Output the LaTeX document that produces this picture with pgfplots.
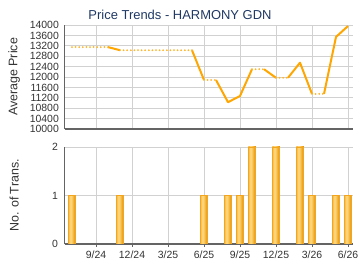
\documentclass[border=0pt]{standalone}
\usepackage{pgfplots}
\pgfplotsset{compat=1.18}
\usepackage{fontspec}
\setmainfont{Liberation Sans}
\definecolor{lineor}{RGB}{255,166,0}
\definecolor{titlec}{RGB}{31,56,100}
\definecolor{txt}{RGB}{51,51,51}
\definecolor{axc}{RGB}{100,100,100}
\definecolor{barL}{RGB}{247,180,50}
\definecolor{barM}{RGB}{255,212,120}
\definecolor{barR}{RGB}{232,150,5}
\definecolor{barE}{RGB}{242,165,30}
\pgfdeclarehorizontalshading{barsh}{100bp}{color(0bp)=(barL); color(25bp)=(barL); color(36bp)=(barM); color(45bp)=(barM); color(70bp)=(barR); color(100bp)=(barR)}
\begin{document}
\begin{tikzpicture}
\useasboundingbox (0bp,0bp) rectangle (360bp,270bp);
\pgfplotsset{
  common/.style={
    scale only axis,
    width=288bp,
    xmin=-2.625, xmax=21.375,
    xtick={0,3,6,9,12,15,18,21},
    axis lines=left,
    axis line style={-, draw=axc, line width=1.2bp},
    grid=major,
    grid style={draw=black!18, line width=0.8bp},
    ytick style={draw=none},
    tick label style={font=\fontsize{10.5}{12}\selectfont, text=txt},
    /pgf/number format/assume math mode=true,
    every axis y label/.style={at={(axis description cs:-0.175,0.5)}, rotate=90, anchor=center,
      font=\fontsize{12.5}{14}\selectfont, text=txt},
  },
  barst/.style={ybar, bar width=7.5bp, bar shift=0pt, draw=barE, line width=0.6bp, shade, shading=barsh},
}
\node[font=\fontsize{13}{15}\selectfont, text=titlec] at (180bp,255bp) {Price Trends - HARMONY GDN};
\begin{axis}[common,
  at={(64.5bp,141bp)}, anchor=south west,
  height=104bp,
  ymin=10000, ymax=14000,
  ytick={10000,10400,...,14000},
  scaled y ticks=false,
  yticklabel style={/pgf/number format/1000 sep={}},
  xticklabels={},
  xtick style={draw=none},
  ylabel={Average Price},
  unbounded coords=jump,
]
\addplot[lineor, line width=2bp, line join=round] coordinates {
(1,13150) (2,13030) (2,nan) (8,13030) (9,11885) (9,nan)
(10,11885) (11,11030) (12,11270) (13,12300) (13,nan)
(14,12300) (15,11970) (15,nan)
(16,11970) (17,12550) (18,11350) (18,nan)
(19,11350) (20,13540) (21,13960)
};
\addplot[lineor!85, line width=2bp, line cap=round, dash pattern=on 0pt off 3.6bp] coordinates {
(-2,13150) (1,13150) (1,nan) (2,13030) (8,13030) (8,nan)
(9,11885) (10,11885) (10,nan) (13,12300) (14,12300) (14,nan)
(15,11970) (16,11970) (16,nan) (18,11350) (19,11350)
};
\end{axis}
\begin{axis}[common,
  at={(64.5bp,26bp)}, anchor=south west,
  height=97bp,
  ymin=0, ymax=2,
  ytick={0,1,2},
  xticklabels={9/24,12/24,3/25,6/25,9/25,12/25,3/26,6/26},
  xtick style={draw=axc, line width=0.8bp},
  tick align=outside,
  major tick length=3bp,
  ylabel={No. of Trans.},
]
\addplot[barst] coordinates {(-2,1)};
\addplot[barst] coordinates {(2,1)};
\addplot[barst] coordinates {(9,1)};
\addplot[barst] coordinates {(11,1)};
\addplot[barst] coordinates {(12,1)};
\addplot[barst] coordinates {(13,2)};
\addplot[barst] coordinates {(15,2)};
\addplot[barst] coordinates {(17,2)};
\addplot[barst] coordinates {(18,1)};
\addplot[barst] coordinates {(20,1)};
\addplot[barst] coordinates {(21,1)};
\end{axis}
\end{tikzpicture}
\end{document}
